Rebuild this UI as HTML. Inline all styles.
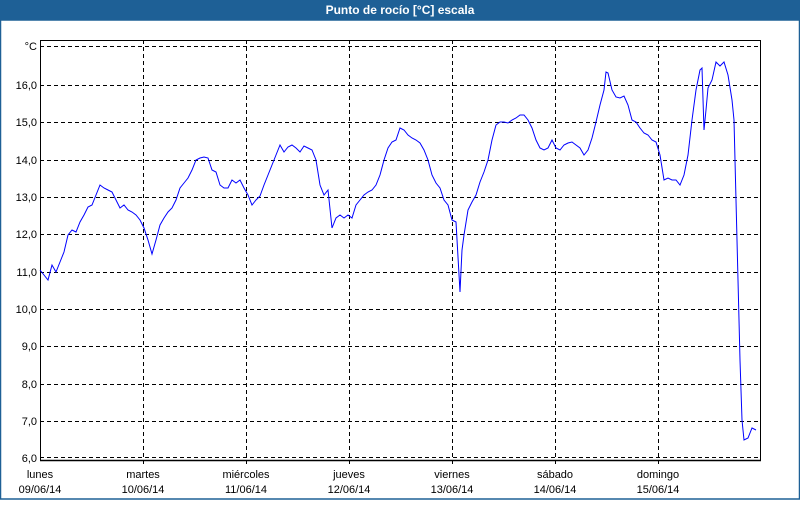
<!DOCTYPE html>
<html><head><meta charset="utf-8"><style>
body{margin:0;width:800px;height:500px;overflow:hidden;background:#fff;font-family:"Liberation Sans",sans-serif}
</style></head><body>
<svg width="800" height="500" xmlns="http://www.w3.org/2000/svg" font-family="Liberation Sans, sans-serif" font-size="11">
<rect x="0" y="0" width="800" height="500" fill="#fff"/>
<rect x="0" y="0" width="800" height="20" fill="#1e6096"/>
<rect x="0.5" y="20" width="799" height="479" fill="none" stroke="#1e6096" stroke-width="1.5"/>
<text x="400" y="14" text-anchor="middle" fill="#fff" font-weight="bold" font-size="12">Punto de rocío [°C] escala</text>
<g stroke="#000" stroke-dasharray="4,3" stroke-width="1">
<line x1="40" y1="46.5" x2="760" y2="46.5"/>
<line x1="40" y1="85.5" x2="760" y2="85.5"/>
<line x1="40" y1="122.5" x2="760" y2="122.5"/>
<line x1="40" y1="160.5" x2="760" y2="160.5"/>
<line x1="40" y1="197.5" x2="760" y2="197.5"/>
<line x1="40" y1="234.5" x2="760" y2="234.5"/>
<line x1="40" y1="272.5" x2="760" y2="272.5"/>
<line x1="40" y1="309.5" x2="760" y2="309.5"/>
<line x1="40" y1="346.5" x2="760" y2="346.5"/>
<line x1="40" y1="384.5" x2="760" y2="384.5"/>
<line x1="40" y1="421.5" x2="760" y2="421.5"/>
<line x1="40" y1="457.5" x2="760" y2="457.5"/>
<line x1="143.5" y1="40" x2="143.5" y2="464"/>
<line x1="246.5" y1="40" x2="246.5" y2="464"/>
<line x1="349.5" y1="40" x2="349.5" y2="464"/>
<line x1="452.5" y1="40" x2="452.5" y2="464"/>
<line x1="555.5" y1="40" x2="555.5" y2="464"/>
<line x1="658.5" y1="40" x2="658.5" y2="464"/>
</g>
<rect x="40.5" y="40.5" width="720" height="420" fill="none" stroke="#000" stroke-width="1"/>
<line x1="40" y1="460.5" x2="761" y2="460.5" stroke="#000" stroke-width="1.5"/>
<g text-anchor="end" fill="#000">
<text x="37" y="50">°C</text>
<text x="37" y="89">16,0</text><text x="37" y="126">15,0</text><text x="37" y="164">14,0</text>
<text x="37" y="201">13,0</text><text x="37" y="238">12,0</text><text x="37" y="276">11,0</text>
<text x="37" y="313">10,0</text><text x="37" y="350">9,0</text><text x="37" y="388">8,0</text>
<text x="37" y="425">7,0</text><text x="37" y="462">6,0</text>
</g>
<g text-anchor="middle" fill="#000">
<text x="40" y="478">lunes</text><text x="40" y="493">09/06/14</text>
<text x="143" y="478">martes</text><text x="143" y="493">10/06/14</text>
<text x="246" y="478">miércoles</text><text x="246" y="493">11/06/14</text>
<text x="349" y="478">jueves</text><text x="349" y="493">12/06/14</text>
<text x="452" y="478">viernes</text><text x="452" y="493">13/06/14</text>
<text x="555" y="478">sábado</text><text x="555" y="493">14/06/14</text>
<text x="658" y="478">domingo</text><text x="658" y="493">15/06/14</text>
</g>
<polyline fill="none" stroke="#0000ff" stroke-width="1" points="40,270 44,275 48,280 52,265 56,272 60,262 64,252 68,235 72,230 76,232 80,222 84,215 88,207 92,205 96,195 100,185 104,188 108,190 112,192 116,200 120,208 124,205 128,210 132,212 136,215 140,220 144,228 148,240 152,254 156,240 160,225 164,218 168,212 172,208 176,200 180,188 184,183 188,178 192,170 196,160 200,158 204,157 208,158 212,170 216,172 220,185 224,188 228,188 232,180 236,183 240,180 244,188 248,195 252,205 256,200 260,196 264,185 268,175 272,165 276,155 280,145 284,152 288,147 292,145 296,148 300,152 304,146 308,148 312,150 316,160 320,185 324,195 328,190 332,228 336,218 340,215 344,218 348,215 352,218 356,205 360,200 364,195 368,192 372,190 376,185 380,175 384,160 388,148 392,142 396,140 400,128 404,130 408,135 412,138 416,140 420,143 424,150 428,160 432,175 436,183 440,188 444,200 448,205 452,220 456,222 460,292 462,250 464,235 468,210 472,202 476,195 480,182 484,172 488,160 492,140 496,125 500,122 504,122 508,123 512,120 516,118 520,115 524,115 528,120 532,128 536,140 540,148 544,150 548,148 552,140 556,148 560,150 564,145 568,143 572,142 576,145 580,148 584,155 588,150 592,138 596,122 600,105 604,90 606,72 608,73 612,90 616,97 620,98 624,96 628,105 632,120 636,122 640,128 644,133 648,135 652,140 656,142 660,155 664,180 668,178 672,180 676,180 680,185 684,175 688,155 692,120 696,90 700,70 702,68 704,130 706,110 708,88 712,80 716,62 720,66 724,62 728,75 732,100 734,120 736,200 738,280 740,360 742,420 744,440 748,438 752,428 756,430"/>
</svg>
</body></html>
